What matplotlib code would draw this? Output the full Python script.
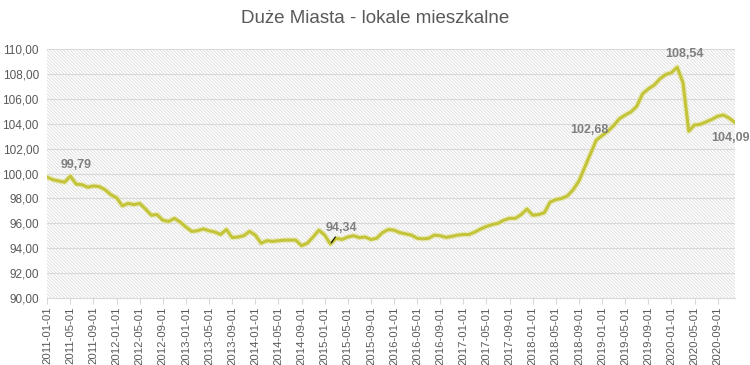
import matplotlib
matplotlib.use("Agg")
import matplotlib.pyplot as plt
from matplotlib.patches import Rectangle
import pandas as pd

plt.rcParams['font.family'] = ['Liberation Sans', 'DejaVu Sans']
plt.rcParams['hatch.linewidth'] = 0.45

title = "Duże Miasta - lokale mieszkalne"
months = pd.date_range("2011-01-01", periods=120, freq="MS").strftime("%Y-%m-%d").tolist()

values = [
    99.70, 99.50, 99.40, 99.30, 99.79, 99.15, 99.10, 98.90, 99.00, 98.95, 98.70, 98.30,   # 2011
    98.05, 97.40, 97.60, 97.50, 97.60, 97.15, 96.65, 96.70, 96.25, 96.15, 96.40, 96.10,   # 2012
    95.70, 95.35, 95.40, 95.55, 95.40, 95.30, 95.10, 95.50, 94.85, 94.90, 95.00, 95.35,   # 2013
    95.05, 94.40, 94.60, 94.55, 94.60, 94.65, 94.65, 94.65, 94.20, 94.40, 94.90, 95.45,   # 2014
    95.05, 94.34, 94.80, 94.70, 94.90, 95.00, 94.85, 94.90, 94.70, 94.80, 95.25, 95.50,   # 2015
    95.45, 95.25, 95.15, 95.05, 94.80, 94.75, 94.80, 95.05, 95.00, 94.87, 94.95, 95.05,   # 2016
    95.10, 95.10, 95.30, 95.55, 95.75, 95.90, 96.00, 96.25, 96.40, 96.40, 96.70, 97.15,   # 2017
    96.65, 96.70, 96.85, 97.70, 97.90, 98.00, 98.20, 98.70, 99.40, 100.50, 101.60, 102.68,  # 2018
    103.05, 103.40, 103.85, 104.40, 104.70, 104.95, 105.40, 106.40, 106.80, 107.10, 107.60, 107.95,  # 2019
    108.10, 108.54, 107.30, 103.40, 103.90, 103.95, 104.15, 104.35, 104.60, 104.70, 104.45, 104.09,  # 2020
]

labelled = [4, 49, 95, 109, 119]
label_offsets = {4: (4, 4), 49: (8, 7), 95: (-5, 3), 109: (5, 5), 119: (-3, -7)}

yticks = [90, 92, 94, 96, 98, 100, 102, 104, 106, 108, 110]

fig = plt.figure(figsize=(7.5, 3.65), dpi=100)
ax = fig.add_axes([0.063, 0.1836, 0.917, 0.682])

x = list(range(len(values)))

# hatched plot background
ax.add_patch(Rectangle((0, 0), 1, 1, transform=ax.transAxes, facecolor='white',
                       edgecolor='#d2d2d2', hatch='\\' * 10, linewidth=0, zorder=0))

for yt in yticks[1:]:
    ax.axhline(yt, color='#d9d9d9', lw=0.8, zorder=1)

ax.plot(x, values, color='#e2e29a', lw=4.0, alpha=0.6, zorder=2, solid_capstyle='round')
ax.plot(x, values, color='#c4c43a', lw=2.2, zorder=3, solid_joinstyle='round')

ax.set_xlim(0, len(values) - 1)
ax.set_ylim(90, 110)
ax.set_yticks(yticks)
ax.set_yticklabels([f"{v:.2f}".replace('.', ',') for v in yticks])
tick_idx = list(range(0, len(values), 4))
ax.set_xticks(tick_idx)
ax.set_xticklabels([months[i] for i in tick_idx], rotation=90)

ax.tick_params(axis='y', length=0, labelsize=8.5, labelcolor='#595959', pad=6)
ax.tick_params(axis='x', length=4, color='#d9d9d9', labelsize=8.2, labelcolor='#595959', pad=2)
for s in ['top', 'right', 'left']:
    ax.spines[s].set_visible(False)
ax.spines['bottom'].set_color('#d9d9d9')
ax.spines['bottom'].set_zorder(1)

for i in labelled:
    txt = f"{values[i]:.2f}".replace('.', ',')
    dx, dy = label_offsets[i]
    if i == 49:
        ax.annotate(txt, (i, values[i]), xytext=(dx, dy), textcoords='offset points',
                    ha='center', va='bottom', fontsize=9, fontweight='bold', color='#7f7f7f',
                    arrowprops=dict(arrowstyle='-', color='black', lw=0.8, shrinkA=0, shrinkB=1),
                    zorder=5)
    else:
        ax.annotate(txt, (i, values[i]), xytext=(dx, dy), textcoords='offset points',
                    ha='center', va='bottom' if dy > 0 else 'top', fontsize=9, fontweight='bold',
                    color='#7f7f7f', zorder=5)

fig.text(0.5, 0.95, title, ha='center', va='center', fontsize=13.5, color='#595959')

fig.savefig("out.png", dpi=100)
